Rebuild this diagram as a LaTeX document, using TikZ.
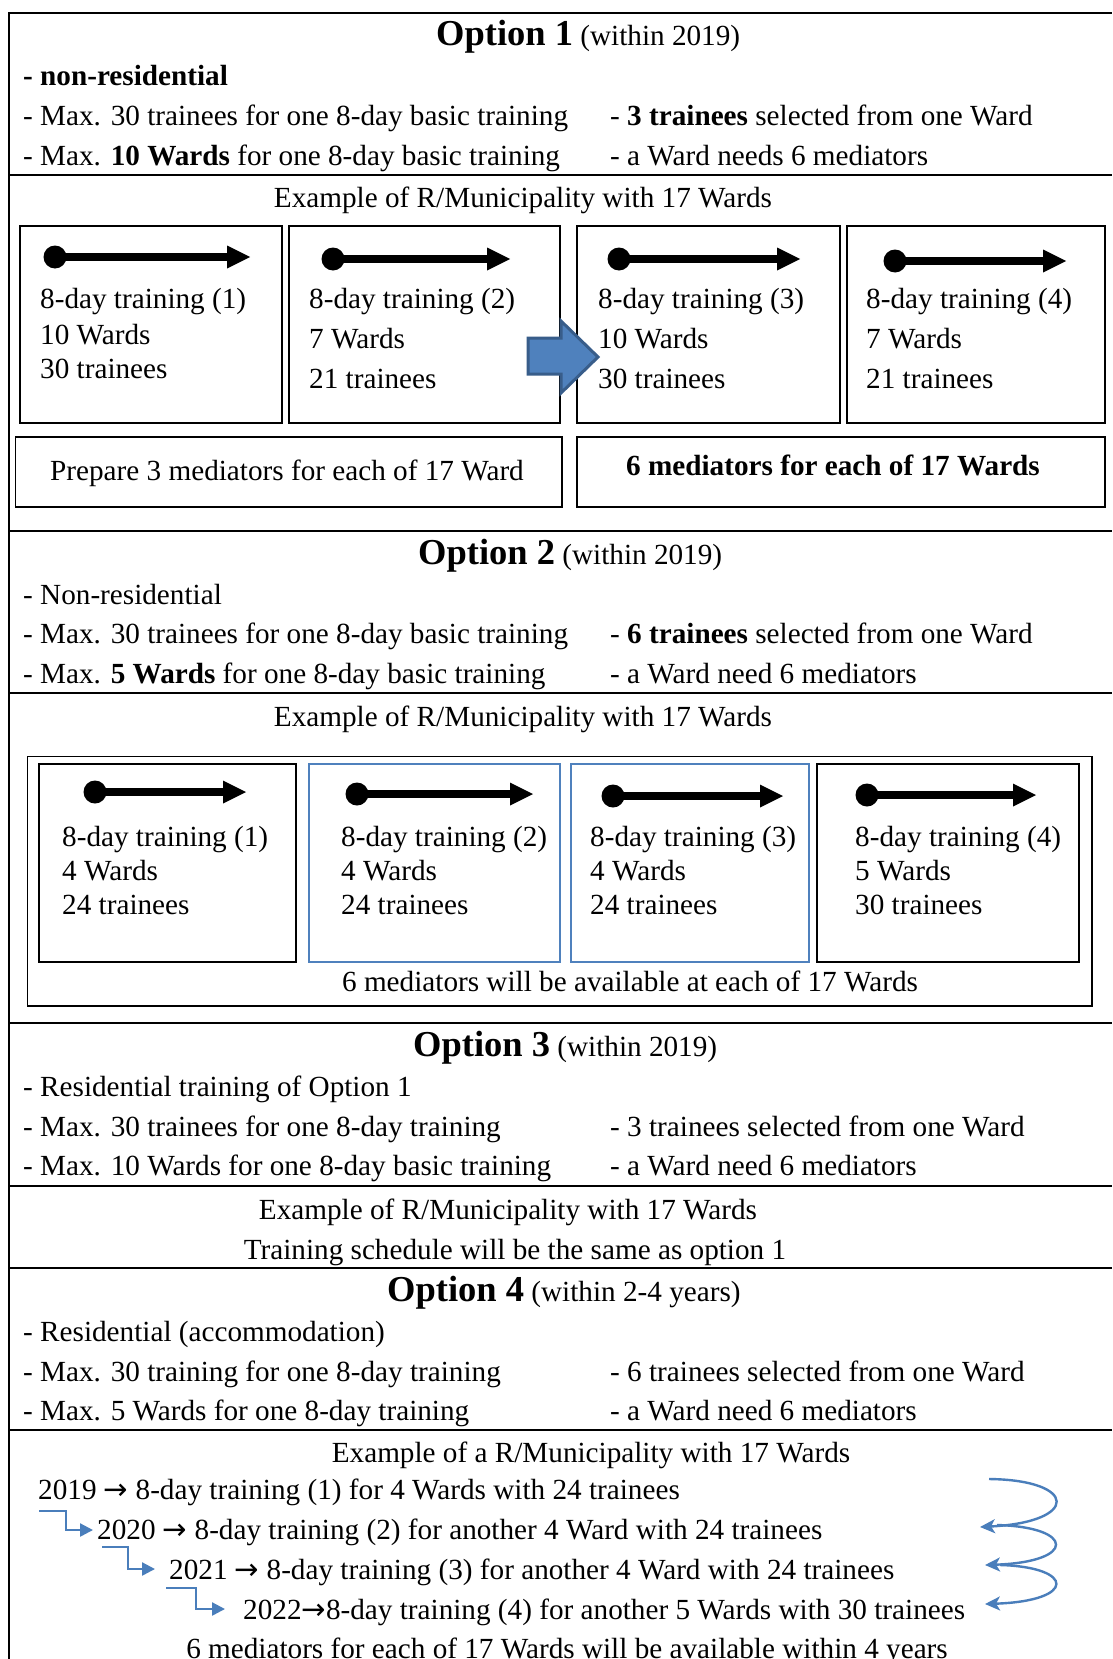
\documentclass[tikz,border=0pt]{standalone}
\usepackage{fontspec}
\setmainfont{Liberation Serif}
\newfontfamily\arrfont{DejaVu Sans}
\newcommand\rarr{{\arrfont →}}
\usetikzlibrary{arrows.meta}
\definecolor{obl}{HTML}{4F81BD}
\definecolor{obd}{HTML}{385D8A}
\definecolor{cbl}{HTML}{4A7EBB}
\newcommand\dotarr[3]{%
  \fill (#1,#3) circle[radius=11.5];
  \draw[line width=7.5pt] (#1,#3) -- ({#2-20},#3);
  \fill ({#2-23},{#3-11.5}) -- (#2,#3) -- ({#2-23},{#3+11.5}) -- cycle;}
\begin{document}
\begin{tikzpicture}[x=1pt,y=-1pt,
  txt/.style={anchor=base west,inner sep=0pt,font=\fontsize{29.2}{34}\selectfont},
  ctxt/.style={txt,anchor=base},
  sep/.style={line width=2pt},
  box/.style={line width=1.3pt},
  bbox/.style={line width=1.1pt,draw=obl},
  curv/.style={cbl,line width=2.4pt,-{Stealth[length=15pt,width=14pt,inset=4pt]}},
  elb/.style={cbl,line width=2.4pt,-{Triangle[length=13pt,width=13pt]}}]
\useasboundingbox (0,0) rectangle (1112,1659);
\fill[white] (0,0) rectangle (1112,1659);
% frame and separators
\draw[sep] (8.5,1659) -- (8.5,12.7) -- (1112,12.7);
\foreach \yy in {174.6,531,693,1023,1186,1268,1430} \draw[sep] (8.5,\yy) -- (1112,\yy);

% ---------- Option 1 ----------
\node[txt] (h1) at (436,46) {{\fontsize{36.5}{40}\selectfont\bfseries Option 1} (within 2019)};
\node[txt] (o1a) at (23,86) {\bfseries - non-residential};
\node[txt] (o1b) at (23,125) {- Max. 30 trainees for one 8-day basic training};
\node[txt] (o1c) at (23,165) {- Max. \textbf{10 Wards} for one 8-day basic training};
\node[txt] (o1d) at (610,125) {- \textbf{3 trainees} selected from one Ward};
\node[txt] (o1e) at (610,165) {- a Ward needs 6 mediators};
\node[ctxt] (e1) at (523,207) {Example of R/Municipality with 17 Wards};

\draw[box] (20,226) rectangle (282,423);
\draw[box] (289,226) rectangle (560,423);
\draw[box] (577,226) rectangle (840,423);
\draw[box] (847,226) rectangle (1105,423);
\draw[box] (15.6,437) rectangle (562,507);
\draw[box] (577,437) rectangle (1105,507);

\dotarr{55}{250}{257}
\dotarr{333}{510}{259}
\dotarr{619}{800}{259}
\dotarr{895}{1066}{261}

\node[txt] (b1a) at (40,308) {8-day training (1)};
\node[txt] (b1b) at (40,344) {10 Wards};
\node[txt] (b1c) at (40,378) {30 trainees};
\node[txt] (b2a) at (309,308) {8-day training (2)};
\node[txt] (b2b) at (309,348) {7 Wards};
\node[txt] (b2c) at (309,388) {21 trainees};
\node[txt] (b3a) at (598,308) {8-day training (3)};
\node[txt] (b3b) at (598,348) {10 Wards};
\node[txt] (b3c) at (598,388) {30 trainees};
\node[txt] (b4a) at (866,308) {8-day training (4)};
\node[txt] (b4b) at (866,348) {7 Wards};
\node[txt] (b4c) at (866,388) {21 trainees};

\draw[fill=obl,draw=obd,line width=3pt,line join=miter]
  (528,338) -- (561,338) -- (561,321) -- (598,357) -- (561,393) -- (561,374) -- (528,374) -- cycle;

\node[ctxt] (p1) at (287,480) {Prepare 3 mediators for each of 17 Ward};
\node[ctxt] (p2) at (833,475) {\bfseries 6 mediators for each of 17 Wards};

% ---------- Option 2 ----------
\node[txt] (h2) at (418,564) {{\fontsize{36.5}{40}\selectfont\bfseries Option 2} (within 2019)};
\node[txt] (o2a) at (23,604) {- Non-residential};
\node[txt] (o2b) at (23,643) {- Max. 30 trainees for one 8-day basic training};
\node[txt] (o2c) at (23,683) {- Max. \textbf{5 Wards} for one 8-day basic training};
\node[txt] (o2d) at (610,643) {- \textbf{6 trainees} selected from one Ward};
\node[txt] (o2e) at (610,683) {- a Ward need 6 mediators};
\node[ctxt] (e2) at (523,726) {Example of R/Municipality with 17 Wards};

\draw[box] (27.5,756.5) rectangle (1092,1006);
\draw[box] (39,764) rectangle (296,962);
\draw[bbox] (309,764) rectangle (560,962);
\draw[bbox] (571,764) rectangle (809,962);
\draw[box] (817,764) rectangle (1079,962);

\dotarr{95}{246}{792}
\dotarr{357}{533}{794}
\dotarr{613}{783}{796}
\dotarr{867}{1036}{795}

\node[txt] (c1a) at (62,846) {8-day training (1)};
\node[txt] (c1b) at (62,880) {4 Wards};
\node[txt] (c1c) at (62,914) {24 trainees};
\node[txt] (c2a) at (341,846) {8-day training (2)};
\node[txt] (c2b) at (341,880) {4 Wards};
\node[txt] (c2c) at (341,914) {24 trainees};
\node[txt] (c3a) at (590,846) {8-day training (3)};
\node[txt] (c3b) at (590,880) {4 Wards};
\node[txt] (c3c) at (590,914) {24 trainees};
\node[txt] (c4a) at (855,846) {8-day training (4)};
\node[txt] (c4b) at (855,880) {5 Wards};
\node[txt] (c4c) at (855,914) {30 trainees};
\node[ctxt] (m2) at (630,991) {6 mediators will be available at each of 17 Wards};

% ---------- Option 3 ----------
\node[txt] (h3) at (413,1056) {{\fontsize{36.5}{40}\selectfont\bfseries Option 3} (within 2019)};
\node[txt] (o3a) at (23,1096) {- Residential training of Option 1};
\node[txt] (o3b) at (23,1136) {- Max. 30 trainees for one 8-day training};
\node[txt] (o3c) at (23,1175) {- Max. 10 Wards for one 8-day basic training};
\node[txt] (o3d) at (610,1136) {- 3 trainees selected from one Ward};
\node[txt] (o3e) at (610,1175) {- a Ward need 6 mediators};
\node[ctxt] (e3) at (508,1219) {Example of R/Municipality with 17 Wards};
\node[ctxt] (t3) at (515,1259) {Training schedule will be the same as option 1};

% ---------- Option 4 ----------
\node[txt] (h4) at (387,1301) {{\fontsize{36.5}{40}\selectfont\bfseries Option 4} (within 2-4 years)};
\node[txt] (o4a) at (23,1341) {- Residential (accommodation)};
\node[txt] (o4b) at (23,1381) {- Max. 30 training for one 8-day training};
\node[txt] (o4c) at (23,1420) {- Max. 5 Wards for one 8-day training};
\node[txt] (o4d) at (610,1381) {- 6 trainees selected from one Ward};
\node[txt] (o4e) at (610,1420) {- a Ward need 6 mediators};
\node[ctxt] (e4) at (591,1462) {Example of a R/Municipality with 17 Wards};

\node[txt] (y19) at (38,1499) {2019 \rarr{} 8-day training (1) for 4 Wards with 24 trainees};
\node[txt] (y20) at (97,1539) {2020 \rarr{} 8-day training (2) for another 4 Ward with 24 trainees};
\node[txt] (y21) at (169,1579) {2021 \rarr{} 8-day training (3) for another 4 Ward with 24 trainees};
\node[txt] (y22) at (243,1619) {2022\rarr8-day training (4) for another 5 Wards with 30 trainees};
\node[ctxt] (m4) at (567,1658) {6 mediators for each of 17 Wards will be available within 4 years};

\draw[elb] (39,1511) -- (66,1511) -- (66,1530) -- (93,1530);
\draw[elb] (102,1547) -- (128,1547) -- (128,1569) -- (155,1569);
\draw[elb] (166,1588) -- (196,1588) -- (196,1609) -- (225,1609);

\draw[curv] (989,1479) .. controls (1078,1480) and (1080,1522) .. (980,1527);
\draw[curv] (997,1525) .. controls (1075,1527) and (1077,1562) .. (985,1565);
\draw[curv] (1000,1565) .. controls (1075,1567) and (1077,1601) .. (985,1604);
\end{tikzpicture}
\end{document}
